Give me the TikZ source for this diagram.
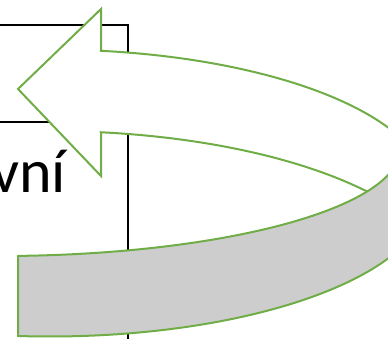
\documentclass[tikz,border=0pt]{standalone}
\usepackage{fontspec}
\setmainfont{Carlito}
\definecolor{arrowgreen}{HTML}{70AD47}
\definecolor{shadegray}{HTML}{CDCDCD}
\begin{document}
\begin{tikzpicture}[x=1pt,y=-1pt,
  boxline/.style={draw=black,line width=2pt},
  arrowback/.style={draw=arrowgreen,fill=white,line width=2pt},
  arrowfront/.style={draw=arrowgreen,fill=shadegray,line width=2pt},
  label/.style={inner sep=0pt,anchor=base west,font=\fontsize{62}{70}\selectfont}]
\useasboundingbox (0,0) rectangle (388,338);
\clip (0,0) rectangle (388,338);
% boxes behind the arrow
\draw[boxline] (-5,25) -- (128,25) -- (128,345);
\draw[boxline] (-5,122) -- (128,122);
\node[label] (txt) at (-9,192) {vní};
% upper (white) part of the curved arrow with its head
\filldraw[arrowback] (101,50) -- (101,9) -- (18,89) -- (101,176) -- (101,133)
  -- plot[domain=-82.7:-30,samples=60,variable=\t] ({50+400*cos(\t)},{286+155*sin(\t)})
  -- plot[domain=0:-82.3,samples=80,variable=\t] ({50+380*cos(\t)},{193+143.5*sin(\t)})
  -- cycle;
% lower (shaded) part of the band
\filldraw[arrowfront] (18,256)
  -- plot[domain=87.4:0,samples=60,variable=\t] ({400*cos(\t)},{149+107*sin(\t)})
  -- plot[domain=-13:94.8,samples=80,variable=\t] ({50+380*cos(\t)},{193+143.5*sin(\t)})
  -- cycle;
\end{tikzpicture}
\end{document}
